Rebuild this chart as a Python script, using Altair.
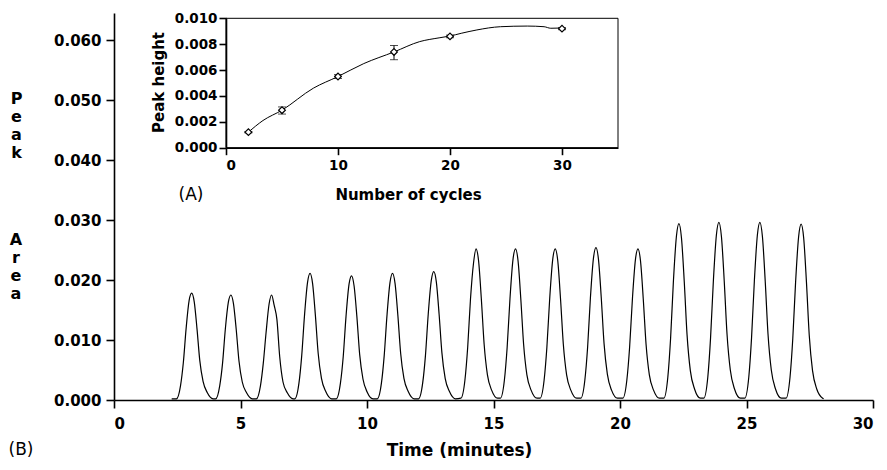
import altair as alt
import pandas as pd

FONT = "DejaVu Sans"

# ---------------- Panel B: chromatogram trace ----------------
lead_time, lead_area = [2.28], [0.0002]
tail_time, tail_area = [28.05], [0.0002]

peak_times = [
    [2.47, 2.63, 2.74, 2.85, 2.97, 3.07, 3.17, 3.28, 3.39, 3.52, 3.69, 3.92],
    [4.02, 4.18, 4.29, 4.40, 4.52, 4.62, 4.72, 4.83, 4.94, 5.07, 5.24, 5.47],
    [5.63, 5.79, 5.90, 6.01, 6.13, 6.23, 6.33, 6.44, 6.55, 6.68, 6.85, 7.08],
    [7.15, 7.31, 7.42, 7.53, 7.65, 7.75, 7.85, 7.96, 8.07, 8.20, 8.37, 8.60],
    [8.79, 8.95, 9.06, 9.17, 9.29, 9.39, 9.49, 9.60, 9.71, 9.84, 10.01, 10.24],
    [10.41, 10.57, 10.68, 10.79, 10.91, 11.01, 11.11, 11.22, 11.33, 11.46, 11.63, 11.86],
    [12.04, 12.20, 12.31, 12.42, 12.54, 12.64, 12.74, 12.85, 12.96, 13.09, 13.26, 13.49],
    [13.71, 13.87, 13.98, 14.09, 14.21, 14.31, 14.41, 14.52, 14.63, 14.76, 14.93, 15.16],
    [15.27, 15.43, 15.54, 15.65, 15.77, 15.87, 15.97, 16.08, 16.19, 16.32, 16.49, 16.72],
    [16.84, 17.00, 17.11, 17.22, 17.34, 17.44, 17.54, 17.65, 17.76, 17.89, 18.06, 18.29],
    [18.45, 18.61, 18.72, 18.83, 18.95, 19.05, 19.15, 19.26, 19.37, 19.50, 19.67, 19.90],
    [20.11, 20.27, 20.38, 20.49, 20.61, 20.71, 20.81, 20.92, 21.03, 21.16, 21.33, 21.56],
    [21.73, 21.89, 22.00, 22.11, 22.23, 22.33, 22.43, 22.54, 22.65, 22.78, 22.95, 23.18],
    [23.31, 23.47, 23.58, 23.69, 23.81, 23.91, 24.01, 24.12, 24.23, 24.36, 24.53, 24.76],
    [24.93, 25.09, 25.20, 25.31, 25.43, 25.53, 25.63, 25.74, 25.85, 25.98, 26.15, 26.38],
    [26.56, 26.72, 26.83, 26.94, 27.06, 27.16, 27.26, 27.37, 27.48, 27.61, 27.78, 28.01],
]
peak_areas = [
    [0.0002, 0.0024, 0.0062, 0.0119, 0.0166, 0.0178, 0.0164, 0.0119, 0.0066, 0.0031, 0.0012, 0.0002],
    [0.0002, 0.0024, 0.0061, 0.0118, 0.0163, 0.0175, 0.0161, 0.0118, 0.0065, 0.0030, 0.0012, 0.0002],
    [0.0002, 0.0024, 0.0061, 0.0112, 0.0160, 0.0175, 0.0158, 0.0134, 0.0072, 0.0030, 0.0012, 0.0002],
    [0.0002, 0.0028, 0.0074, 0.0141, 0.0196, 0.0211, 0.0194, 0.0141, 0.0078, 0.0036, 0.0014, 0.0002],
    [0.0002, 0.0028, 0.0072, 0.0139, 0.0193, 0.0207, 0.0190, 0.0139, 0.0076, 0.0035, 0.0013, 0.0002],
    [0.0002, 0.0028, 0.0074, 0.0141, 0.0196, 0.0211, 0.0194, 0.0141, 0.0078, 0.0036, 0.0014, 0.0002],
    [0.0002, 0.0028, 0.0074, 0.0143, 0.0199, 0.0214, 0.0197, 0.0143, 0.0079, 0.0036, 0.0014, 0.0002],
    [0.0003, 0.0033, 0.0088, 0.0168, 0.0228, 0.0252, 0.0232, 0.0168, 0.0093, 0.0042, 0.0016, 0.0003],
    [0.0003, 0.0033, 0.0088, 0.0168, 0.0234, 0.0252, 0.0232, 0.0168, 0.0093, 0.0042, 0.0016, 0.0003],
    [0.0003, 0.0033, 0.0088, 0.0168, 0.0234, 0.0252, 0.0232, 0.0168, 0.0093, 0.0042, 0.0016, 0.0003],
    [0.0003, 0.0033, 0.0088, 0.0170, 0.0236, 0.0254, 0.0234, 0.0170, 0.0094, 0.0043, 0.0016, 0.0003],
    [0.0003, 0.0033, 0.0088, 0.0168, 0.0234, 0.0252, 0.0232, 0.0168, 0.0093, 0.0042, 0.0016, 0.0003],
    [0.0003, 0.0038, 0.0103, 0.0197, 0.0273, 0.0294, 0.0270, 0.0197, 0.0109, 0.0049, 0.0018, 0.0003],
    [0.0003, 0.0038, 0.0104, 0.0198, 0.0275, 0.0296, 0.0272, 0.0198, 0.0110, 0.0050, 0.0018, 0.0003],
    [0.0003, 0.0038, 0.0104, 0.0198, 0.0275, 0.0296, 0.0272, 0.0198, 0.0110, 0.0050, 0.0018, 0.0003],
    [0.0003, 0.0038, 0.0103, 0.0196, 0.0272, 0.0293, 0.0270, 0.0196, 0.0108, 0.0049, 0.0018, 0.0003],
]

main_x_ticks = [0, 5, 10, 15, 20, 25, 30]
main_y_ticks = [0.0, 0.01, 0.02, 0.03, 0.04, 0.05, 0.06]
main_y_title_top = ["P", "e", "a", "k"]
main_y_title_bottom = "A\nr\ne\na"

# ---------------- Panel A (inset): peak height vs number of cycles ----------------
cycles = [2, 5, 10, 15, 20, 30]
peak_height = [0.0012, 0.0029, 0.0055, 0.0074, 0.0086, 0.0092]
err_low = [0.00115, 0.0026, 0.00535, 0.0068, 0.0085, 0.00912]
err_high = [0.00125, 0.00315, 0.00565, 0.0079, 0.0087, 0.00928]

curve_cycles = [2, 3.3, 5, 7.8, 10, 12.3, 15, 17.3, 19.1, 20, 21, 22.4, 24.5, 26.9, 28.4, 29, 30]
curve_height = [0.0012, 0.0021, 0.0029, 0.0046, 0.0055, 0.0065, 0.0074, 0.0082, 0.0085,
                0.00863, 0.00884, 0.0091, 0.00935, 0.0094, 0.00935, 0.00923, 0.00925]

inset_x_ticks = [0, 10, 20, 30]
inset_y_ticks = [0.0, 0.002, 0.004, 0.006, 0.008, 0.010]
inset_x_domain = [0, 35]
inset_y_domain = [0, 0.010]

# ---------------- data frames ----------------
t_all, a_all = list(lead_time), list(lead_area)
for ts, as_ in zip(peak_times, peak_areas):
    t_all += ts
    a_all += as_
t_all += tail_time
a_all += tail_area
trace_df = pd.DataFrame({"t": t_all, "a": a_all})

pts_df = pd.DataFrame({"c": cycles, "h": peak_height, "lo": err_low, "hi": err_high})
curve_df = pd.DataFrame({"c": curve_cycles, "h": curve_height})
frame_df = pd.DataFrame({"c": [inset_x_domain[0]], "c2": [inset_x_domain[1]],
                         "h": [inset_y_domain[0]], "h2": [inset_y_domain[1]]})

# ---------------- layout constants ----------------
W, H = 759, 387

# ---------------- main panel ----------------
mx = alt.X("t:Q",
           scale=alt.Scale(domain=[0, 30], nice=False),
           axis=alt.Axis(values=main_x_ticks, format="d", title="Time (minutes)",
                         labelFontSize=15, tickSize=8, labelPadding=8,
                         titleFontSize=17, titleX=345, titleY=50,
                         titleBaseline="middle", titleAlign="center"))
my = alt.Y("a:Q",
           scale=alt.Scale(domain=[0, 0.0645], nice=False),
           axis=alt.Axis(values=main_y_ticks, format=".3f",
                         title=main_y_title_top,
                         labelFontSize=15, tickSize=8, labelPadding=5,
                         titleFontSize=16, titleLineHeight=18, titleAngle=0,
                         titleX=-98, titleY=85, titleBaseline="middle", titleAlign="center"))

trace = alt.Chart(trace_df).mark_line(color="black", strokeWidth=1.2,
                                      interpolate="monotone").encode(x=mx, y=my)

one_row = pd.DataFrame({"k": [0]})
label_area = alt.Chart(one_row).mark_text(
    text=main_y_title_bottom, lineBreak="\n", lineHeight=18, font=FONT, fontSize=16,
    fontWeight="bold", color="black", align="center", baseline="middle"
).encode(x=alt.value(-98), y=alt.value(227))
label_a = alt.Chart(one_row).mark_text(
    text="(A)", font=FONT, fontSize=17, color="black", align="center", baseline="middle"
).encode(x=alt.value(77), y=alt.value(182))
label_b = alt.Chart(one_row).mark_text(
    text="(B)", font=FONT, fontSize=17, color="black", align="center", baseline="middle"
).encode(x=alt.value(-93), y=alt.value(437))

main = alt.layer(trace, label_area, label_a, label_b)

# ---------------- inset panel ----------------
ix_scale = alt.Scale(domain=inset_x_domain, range=[112, 504], nice=False)
iy_scale = alt.Scale(domain=inset_y_domain, range=[134.7, 5.3], nice=False)
ix_axis = alt.Axis(orient="bottom", offset=-252.3, values=inset_x_ticks, format="d",
                   title="Number of cycles", labelFontSize=13.5, tickSize=7, labelPadding=4,
                   titleFontSize=15, titleX=294, titleY=47,
                   titleBaseline="middle", titleAlign="center")
iy_axis = alt.Axis(orient="left", offset=-112, values=inset_y_ticks, format=".3f",
                   title="Peak height", labelFontSize=13.5, tickSize=7, labelPadding=2,
                   titleFontSize=15, titleX=-68, titleY=69, titleAngle=270,
                   titleBaseline="middle", titleAlign="center")

ix = alt.X("c:Q", scale=ix_scale, axis=ix_axis)
iy = alt.Y("h:Q", scale=iy_scale, axis=iy_axis)

frame = alt.Chart(frame_df).mark_rect(fill=None, stroke="black", strokeWidth=1).encode(
    x=ix, x2="c2:Q", y=iy, y2="h2:Q")
curve = alt.Chart(curve_df).mark_line(color="black", strokeWidth=1,
                                      interpolate="monotone").encode(x=ix, y=iy)
bars = alt.Chart(pts_df).mark_rule(color="black", strokeWidth=1).encode(
    x=ix, y=alt.Y("lo:Q", scale=iy_scale, axis=iy_axis), y2="hi:Q")
cap_lo = alt.Chart(pts_df).mark_tick(color="black", orient="horizontal", size=8,
                                     thickness=1).encode(
    x=ix, y=alt.Y("lo:Q", scale=iy_scale, axis=iy_axis))
cap_hi = alt.Chart(pts_df).mark_tick(color="black", orient="horizontal", size=8,
                                     thickness=1).encode(
    x=ix, y=alt.Y("hi:Q", scale=iy_scale, axis=iy_axis))
points = alt.Chart(pts_df).mark_point(shape="diamond", size=45, filled=True, fill="white",
                                      stroke="black", strokeWidth=1.2, opacity=1).encode(
    x=ix, y=iy)

inset = alt.layer(frame, curve, bars, cap_lo, cap_hi, points)

chart = alt.layer(main, inset).resolve_scale(
    x="independent", y="independent"
).properties(
    width=W, height=H,
    autosize=alt.AutoSizeParams(type="none"),
    padding={"left": 106, "top": 5, "right": 6, "bottom": 62},
    background="white",
).configure_view(
    stroke=None
).configure_axis(
    grid=False,
    domainColor="black", domainWidth=1.6,
    tickColor="black", tickWidth=1.6,
    labelColor="black", labelFont=FONT, labelFontWeight="bold",
    titleColor="black", titleFont=FONT, titleFontWeight="bold",
    labelOverlap=False,
)

chart.save("out.html", embed_options={"renderer": "svg", "actions": False})
